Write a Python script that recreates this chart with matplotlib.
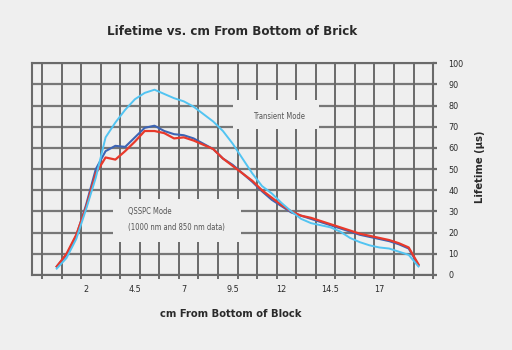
import matplotlib.pyplot as plt
from matplotlib.patches import Rectangle

# colours
BG = "#efefef"
GRID = "#6a6a6a"
CYAN = "#52c4f2"
RED = "#e8392b"
BLUE = "#3d64b4"
TEXT = "#2a2a2a"

# cm from bottom of block
position = [0.5, 1.0, 1.5, 2.0, 2.5, 3.0, 3.5, 4.0, 4.5, 5.0, 5.5, 6.0, 6.5,
            7.0, 7.5, 8.0, 8.5, 9.0, 9.5, 10.0, 10.5, 11.0, 11.5, 12.0, 12.5,
            13.0, 13.5, 14.0, 14.5, 15.0, 15.5, 16.0, 16.5, 17.0, 17.5, 18.0,
            18.5, 19.0]

# lifetime (us)
qsspc_1000 = [4, 9.5, 18.5, 33, 50, 58.5, 61, 60.5, 65, 69.5, 70.5, 68, 66.5,
              66, 64.5, 62, 59.5, 55, 52, 48, 44, 39.5, 35.5, 32.5, 29.5,
              28, 26.5, 25, 23.5, 22, 20.5, 19, 18, 17, 16, 14.5, 12.5, 4.5]
qsspc_850 = [4, 10, 19, 32, 48, 55.5, 54.5, 58.5, 63, 68, 68, 67, 64.5,
             65, 63.5, 61.5, 59.5, 55, 51.5, 48, 44.5, 40, 36.5, 33, 30,
             28, 27, 25.5, 24, 22.5, 21, 19.5, 18.5, 17.5, 16.5, 15, 13, 5]
transient = [3, 8, 17, 31, 46, 65, 72, 78, 83, 86, 87.5, 85.5, 83.5,
             82, 79.5, 76, 72.5, 68, 62, 55, 48, 42, 38.5, 34, 30,
             26.5, 24.5, 23.5, 22.5, 20.5, 17.5, 15.5, 14, 13, 12.5, 11,
             9.5, 4]

x_labels = [2, 4.5, 7, 9.5, 12, 14.5, 17]
y_ticks = list(range(0, 101, 10))
x_grid = [-0.25 + i for i in range(21)]

plt.rcParams["font.family"] = "DejaVu Sans"
plt.rcParams["font.stretch"] = "condensed"

fig = plt.figure(figsize=(5.12, 3.5), dpi=100, facecolor=BG)
ax = fig.add_axes([0.063, 0.2143, 0.783, 0.605], facecolor=BG)

ax.set_xlim(-0.75, 19.75)
ax.set_ylim(0, 100)

# grid
for gx in x_grid:
    ax.axvline(gx, color=GRID, lw=1.4, zorder=1)
for gy in y_ticks:
    ax.axhline(gy, color=GRID, lw=1.6, alpha=0.9, zorder=1)
for side in ["left", "right", "top", "bottom"]:
    ax.spines[side].set_color(GRID)
    ax.spines[side].set_linewidth(1.5)

# text panels blank out the grid behind them
ax.add_patch(Rectangle((9.5, 68.8), 4.4, 14.0, facecolor=BG, edgecolor="none", zorder=2))
ax.add_patch(Rectangle((3.4, 15.6), 6.5, 20.3, facecolor=BG, edgecolor="none", zorder=2))

ax.plot(position, qsspc_1000, color=BLUE, lw=1.5, zorder=3)
ax.plot(position, qsspc_850, color=RED, lw=1.6, zorder=4)
ax.plot(position, transient, color=CYAN, lw=1.4, zorder=5)

ax.text(11.85, 75, "Transient Mode", fontsize=5.5, color="#555555", ha="center", va="center", zorder=6)
ax.text(4.15, 30.2, "QSSPC Mode", fontsize=5.5, color="#555555", ha="left", va="center", zorder=6)
ax.text(4.15, 22.2, "(1000 nm and 850 nm data)", fontsize=5.5, color="#555555", ha="left", va="center", zorder=6)

# axes
ax.set_xticks(x_labels)
ax.set_xticklabels([str(v) for v in x_labels], fontsize=6.5, color=TEXT)
ax.tick_params(axis="x", length=0, pad=7)
ax.set_xticks(x_grid, minor=True)
ax.tick_params(axis="x", which="minor", length=3, width=1.4, color=GRID, direction="out")

ax.yaxis.tick_right()
ax.set_yticks(y_ticks)
ax.set_yticklabels([str(v) for v in y_ticks], fontsize=6.5, color=TEXT)
ax.tick_params(axis="y", length=3, width=1.6, color=GRID, pad=8)

fig.text(0.453, 0.909, "Lifetime vs. cm From Bottom of Brick", fontsize=9.5, fontweight="bold",
         color=TEXT, ha="center", va="center")
fig.text(0.451, 0.103, "cm From Bottom of Block", fontsize=8, fontweight="bold",
         color=TEXT, ha="center", va="center")
fig.text(0.938, 0.523, "Lifetime (\u00b5s)", fontsize=8, fontweight="bold", rotation=90,
         color=TEXT, ha="center", va="center")

fig.savefig("out.png", dpi=100, facecolor=BG)
